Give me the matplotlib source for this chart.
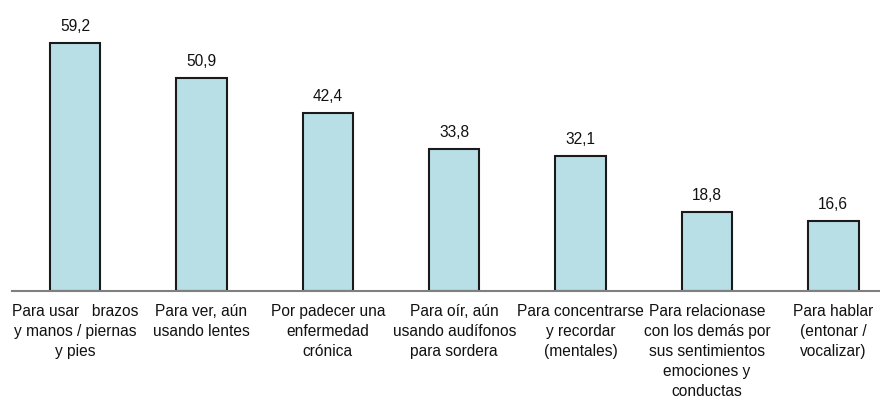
import matplotlib.pyplot as plt
import numpy as np

plt.rcParams['font.family'] = ['Liberation Sans', 'DejaVu Sans']

categories = [
    "Para usar   brazos\ny manos / piernas\ny pies",
    "Para ver, aún\nusando lentes",
    "Por padecer una\nenfermedad\ncrónica",
    "Para oír, aún\nusando audífonos\npara sordera",
    "Para concentrarse\ny recordar\n(mentales)",
    "Para relacionase\ncon los demás por\nsus sentimientos\nemociones y\nconductas",
    "Para hablar\n(entonar /\nvocalizar)",
]
values = [59.2, 50.9, 42.4, 33.8, 32.1, 18.8, 16.6]
value_labels = ["59,2", "50,9", "42,4", "33,8", "32,1", "18,8", "16,6"]

fig = plt.figure(figsize=(8.8, 4.1), dpi=100)
ax = fig.add_axes([0.0136, 0.288, 0.9864, 0.712])

x = np.arange(len(values))
ax.bar(x, values, width=0.4, color='#b8dfe6', edgecolor='#1a1a1a', linewidth=1.5)

for xi, v, lab in zip(x, values, value_labels):
    ax.text(xi, v + 2.4, lab, ha='center', va='bottom', fontsize=11.2, color='#111111')

ax.set_xlim(-0.5, 6.37)
ax.set_ylim(0, 69.7)
ax.set_xticks(x)
ax.set_xticklabels(categories, fontsize=11.2, color='#111111', linespacing=1.4)
ax.tick_params(axis='x', length=0, pad=9)
ax.set_yticks([])
for s in ['top', 'right', 'left']:
    ax.spines[s].set_visible(False)
ax.spines['bottom'].set_color('#7f7f7f')
ax.spines['bottom'].set_linewidth(1.5)

fig.savefig('out.png', dpi=100)
